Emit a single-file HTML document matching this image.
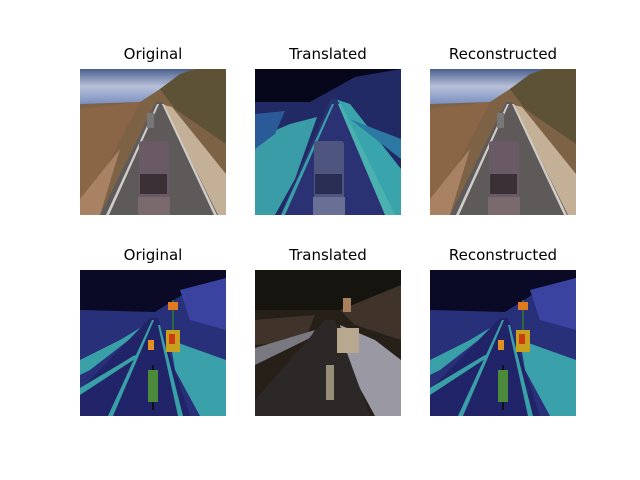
<!DOCTYPE html>
<html><head><style>
body{margin:0;background:#fff;width:640px;height:480px;position:relative;overflow:hidden;font-family:"DejaVu Sans","Liberation Sans",sans-serif}
.t{position:absolute;font-size:15px;color:#000;width:146px;text-align:center}
svg{position:absolute;width:146px;height:146px}
</style></head><body>
<div class="t" style="left:80px;top:45px">Original</div>
<div class="t" style="left:255px;top:45px">Translated</div>
<div class="t" style="left:430px;top:45px">Reconstructed</div>
<div class="t" style="left:80px;top:246px">Original</div>
<div class="t" style="left:255px;top:246px">Translated</div>
<div class="t" style="left:430px;top:246px">Reconstructed</div>

<svg width="0" height="0" style="position:absolute">
<defs>
<linearGradient id="sky" x1="0" y1="0" x2="0" y2="1"><stop offset="0" stop-color="#4a6090"/><stop offset=".5" stop-color="#b8c0d8"/><stop offset="1" stop-color="#7a90c0"/></linearGradient>
<symbol id="A" viewBox="0 0 146 146">
<rect width="146" height="146" fill="#7e6246"/>
<polygon points="0,0 115,0 80,20 60,33 0,35" fill="url(#sky)"/>
<polygon points="80,20 100,5 115,0 146,0 146,75 95,40" fill="#5e5236"/>
<polygon points="0,40 60,33 20,110 0,130" fill="#8a6646"/>
<polygon points="0,130 40,80 20,146 0,146" fill="#a88262"/>
<polygon points="84,36 92,38 146,105 146,146 137,146" fill="#c4b096"/>
<polygon points="76,33 82,33 138,146 20,146" fill="#5e5a5a"/>
<polygon points="77,35 79,35 29,146 26,146" fill="#d0ccc8"/>
<polygon points="82,35 84,35 137,146 134,146" fill="#d0ccc8"/>
<rect x="67" y="44" width="7" height="15" fill="#777"/>
<rect x="59" y="72" width="30" height="74" rx="3" fill="#6a5a66"/>
<rect x="60" y="105" width="27" height="20" fill="#3a3036"/>
<rect x="58" y="128" width="32" height="18" fill="#7a6a6e"/>
</symbol>
<symbol id="B" viewBox="0 0 146 146">
<rect width="146" height="146" fill="#222a66"/>
<polygon points="0,0 146,0 146,0 100,8 55,33 0,33" fill="#07071c"/>
<polygon points="0,70 35,55 62,48 40,110 20,146 0,146" fill="#3a9ca6"/>
<polygon points="0,45 30,42 20,65 0,80" fill="#2a5a98"/>
<polygon points="80,30 95,35 146,100 146,146 133,146" fill="#3aa4ac"/>
<polygon points="95,50 120,60 146,70 146,90" fill="#2c7aa4"/>
<polygon points="76,30 82,30 135,146 25,146" fill="#2a3274"/>
<polygon points="77,35 79,35 30,146 26,146" fill="#3aa0a8"/>
<polygon points="83,35 86,35 140,146 130,146" fill="#4ab0b0"/>
<rect x="59" y="72" width="30" height="74" rx="3" fill="#4e5680"/>
<rect x="60" y="105" width="27" height="20" fill="#2a2e55"/>
<rect x="58" y="128" width="32" height="18" fill="#6a7095"/>
</symbol>
<symbol id="C" viewBox="0 0 146 146">
<rect width="146" height="146" fill="#28307a"/>
<polygon points="0,0 146,0 146,8 110,20 75,42 0,40" fill="#0a0a26"/>
<polygon points="100,20 146,8 146,60 110,50" fill="#3a44a0"/>
<polygon points="0,90 40,70 65,55 55,65 10,100 0,105" fill="#3aa0a8"/>
<polygon points="90,70 146,90 146,146 120,146 95,100" fill="#3aa0aa"/>
<polygon points="70,48 78,48 110,146 0,146 0,120" fill="#22246a"/>
<polygon points="72,50 74,50 33,146 28,146" fill="#3aa0a8"/>
<polygon points="78,55 80,55 103,146 98,146" fill="#3aa0a8"/>
<polygon points="0,118 55,85 58,87 0,125" fill="#3aa0a8"/>
<rect x="72" y="95" width="2" height="45" fill="#111"/>
<rect x="68" y="100" width="10" height="32" fill="#4a8a3a"/>
<rect x="68" y="70" width="6" height="10" fill="#e09020"/>
<rect x="92" y="30" width="2" height="40" fill="#2a6a40"/>
<rect x="86" y="60" width="14" height="22" fill="#c8a020"/>
<rect x="89" y="64" width="6" height="10" fill="#d03a10"/>
<rect x="88" y="32" width="10" height="8" fill="#e07a20"/>
</symbol>
<symbol id="D" viewBox="0 0 146 146">
<rect width="146" height="146" fill="#262018"/>
<rect width="146" height="40" fill="#16140f"/>
<polygon points="85,40 146,15 146,70 100,55" fill="#40342a"/>
<polygon points="0,50 60,45 50,70 0,75" fill="#40342a"/>
<polygon points="0,78 60,60 55,68 0,95" fill="#7a7880"/>
<polygon points="85,55 120,70 146,90 146,146 120,146 95,100" fill="#9a98a2"/>
<polygon points="70,50 80,50 115,146 0,146 0,130" fill="#2c2828"/>
<rect x="82" y="58" width="22" height="25" fill="#b8a890"/>
<rect x="88" y="28" width="8" height="14" fill="#a88060"/>
<rect x="71" y="95" width="8" height="35" fill="#988f78"/>
</symbol>
</defs>
</svg>

<svg style="left:80px;top:69px"><use href="#A"/></svg>
<svg style="left:255px;top:69px"><use href="#B"/></svg>
<svg style="left:430px;top:69px"><use href="#A"/></svg>
<svg style="left:80px;top:270px"><use href="#C"/></svg>
<svg style="left:255px;top:270px"><use href="#D"/></svg>
<svg style="left:430px;top:270px"><use href="#C"/></svg>
</body></html>
